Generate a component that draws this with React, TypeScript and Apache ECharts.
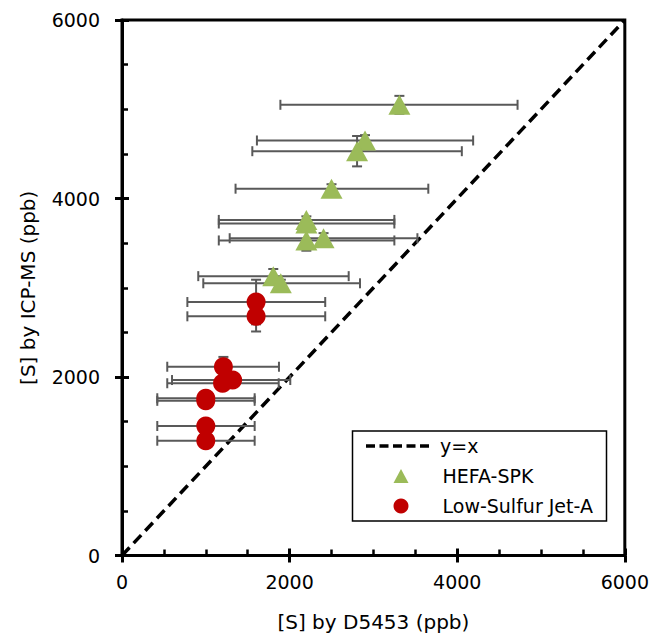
import React, { useEffect, useRef } from "react";
import * as echarts from "echarts";

// HEFA-SPK
const hefaX = [3310, 2900, 2805, 2500, 2200, 2200, 2200, 2405, 1805, 1895];
const hefaY = [5050, 4650, 4530, 4110, 3760, 3720, 3530, 3555, 3130, 3050];
const hefaXLow = [1890, 1610, 1555, 1355, 1155, 1155, 1155, 1285, 910, 970];
const hefaXHigh = [4720, 4190, 4055, 3655, 3250, 3250, 3250, 3525, 2705, 2840];
const hefaYErr = [100, 60, 170, 50, 40, 40, 115, 57, 80, 40];

// Low-Sulfur Jet-A
const jetX = [1600, 1600, 1210, 1200, 1320, 1000, 1000, 1000, 1000];
const jetY = [2840, 2680, 2115, 1930, 1966, 1762, 1733, 1451, 1286];
const jetXLow = [780, 780, 540, 540, 597, 421, 421, 421, 421];
const jetXHigh = [2425, 2425, 1873, 1870, 2008, 1583, 1583, 1583, 1583];
const jetYErr = [250, 170, 110, 60, 60, 60, 60, 60, 60];

// y = x reference line
const refLine = [
  [0, 0],
  [6000, 6000],
];

const axisMin = 0;
const axisMax = 6000;
const axisInterval = 2000;

const xTitle = "[S] by D5453 (ppb)";
const yTitle = "[S] by ICP-MS (ppb)";
const legendNames = ["y=x", "HEFA-SPK", "Low-Sulfur Jet-A"];

const FONT = "DejaVu Sans";
const BAR_COLOR = "#595959";

function errData(xs: number[], ys: number[], lo: number[], hi: number[], ye: number[]) {
  return xs.map((x, i) => [x, ys[i], lo[i], hi[i], ys[i] - ye[i], ys[i] + ye[i]]);
}

function renderErr(params: any, api: any) {
  const x = api.value(0);
  const y = api.value(1);
  const l = api.coord([api.value(2), y]);
  const r = api.coord([api.value(3), y]);
  const b = api.coord([x, api.value(4)]);
  const t = api.coord([x, api.value(5)]);
  const cap = 5;
  const style = { stroke: BAR_COLOR, lineWidth: 2 };
  const ln = (x1: number, y1: number, x2: number, y2: number) => ({
    type: "line",
    shape: { x1, y1, x2, y2 },
    style,
  });
  return {
    type: "group",
    children: [
      ln(l[0], l[1], r[0], r[1]),
      ln(l[0], l[1] - cap, l[0], l[1] + cap),
      ln(r[0], r[1] - cap, r[0], r[1] + cap),
      ln(b[0], b[1], t[0], t[1]),
      ln(b[0] - cap, b[1], b[0] + cap, b[1]),
      ln(t[0] - cap, t[1], t[0] + cap, t[1]),
    ],
  };
}

export default function App() {
  const ref = useRef<HTMLDivElement>(null);

  useEffect(() => {
    document.body.style.margin = "0";
    const chart = echarts.init(ref.current!, null, { renderer: "svg" });

    const labelStyle = {
      color: "#000",
      fontFamily: FONT,
      fontSize: 19,
      formatter: (v: number) => String(v),
    };
    const nameStyle = { color: "#000", fontFamily: FONT, fontSize: 20 };

    const mainAxis = (isX: boolean) => ({
      type: "value",
      min: axisMin,
      max: axisMax,
      interval: axisInterval,
      position: isX ? "bottom" : "left",
      axisLine: { show: true, onZero: false, lineStyle: { color: "#000", width: 3 } },
      axisTick: { show: true, inside: true, length: 7, lineStyle: { color: "#000", width: 3 } },
      minorTick: { show: true, splitNumber: 4, length: 6, lineStyle: { color: "#000", width: 2.5 } },
      splitLine: { show: false },
      axisLabel: { ...labelStyle, margin: isX ? 17 : 22 },
      name: isX ? xTitle : yTitle,
      nameLocation: "middle",
      nameGap: isX ? 56 : 84,
      nameTextStyle: nameStyle,
    });
    const outerTickAxis = (isX: boolean) => ({
      type: "value",
      min: axisMin,
      max: axisMax,
      interval: axisInterval,
      position: isX ? "bottom" : "left",
      axisLine: { show: false, onZero: false },
      axisTick: { show: true, inside: false, length: 7, lineStyle: { color: "#000", width: 3 } },
      axisLabel: { show: false },
      splitLine: { show: false },
    });

    const lx = 352.5;
    const ly = 431;

    chart.setOption({
      animation: false,
      grid: {
        left: 122,
        top: 20,
        width: 505.5,
        height: 535.5,
        show: true,
        borderColor: "#000",
        borderWidth: 3,
        backgroundColor: "transparent",
      },
      xAxis: [mainAxis(true), outerTickAxis(true)],
      yAxis: [mainAxis(false), outerTickAxis(false)],
      series: [
        {
          type: "line",
          name: legendNames[0],
          data: refLine,
          xAxisIndex: 0,
          yAxisIndex: 0,
          showSymbol: false,
          lineStyle: { color: "#000", width: 3.5, type: [11, 6] },
          z: 2,
        },
        {
          type: "custom",
          name: "hefaErr",
          xAxisIndex: 0,
          yAxisIndex: 0,
          data: errData(hefaX, hefaY, hefaXLow, hefaXHigh, hefaYErr),
          renderItem: renderErr,
          encode: { x: [0, 2, 3], y: [1, 4, 5] },
          z: 3,
        },
        {
          type: "custom",
          name: "jetErr",
          xAxisIndex: 0,
          yAxisIndex: 0,
          data: errData(jetX, jetY, jetXLow, jetXHigh, jetYErr),
          renderItem: renderErr,
          encode: { x: [0, 2, 3], y: [1, 4, 5] },
          z: 3,
        },
        {
          type: "scatter",
          name: legendNames[1],
          xAxisIndex: 0,
          yAxisIndex: 0,
          symbol: "triangle",
          symbolSize: [22, 20],
          itemStyle: { color: "#9BBB59", opacity: 1 },
          data: hefaX.map((x, i) => [x, hefaY[i]]),
          z: 4,
        },
        {
          type: "scatter",
          name: legendNames[2],
          xAxisIndex: 0,
          yAxisIndex: 0,
          symbol: "circle",
          symbolSize: 19,
          itemStyle: { color: "#C00000", opacity: 1 },
          data: jetX.map((x, i) => [x, jetY[i]]),
          z: 4,
        },
      ],
      graphic: [
        {
          type: "group",
          z: 100,
          children: [
            {
              type: "rect",
              shape: { x: lx, y: ly, width: 254, height: 90 },
              style: { fill: "#fff", stroke: "#000", lineWidth: 1.5 },
            },
            {
              type: "line",
              shape: { x1: lx + 13.5, y1: ly + 15, x2: lx + 78.5, y2: ly + 15 },
              style: { stroke: "#000", lineWidth: 3.5, lineDash: [9, 4.5] },
            },
            {
              type: "text",
              x: lx + 87.5,
              y: ly + 15,
              style: { text: legendNames[0], font: `19px '${FONT}'`, fill: "#000", verticalAlign: "middle" },
            },
            {
              type: "polygon",
              shape: {
                points: [
                  [lx + 48.5, ly + 38],
                  [lx + 56, ly + 52],
                  [lx + 41, ly + 52],
                ],
              },
              style: { fill: "#9BBB59" },
            },
            {
              type: "text",
              x: lx + 90,
              y: ly + 45,
              style: { text: legendNames[1], font: `19px '${FONT}'`, fill: "#000", verticalAlign: "middle" },
            },
            {
              type: "circle",
              shape: { cx: lx + 48.5, cy: ly + 75, r: 7.5 },
              style: { fill: "#C00000" },
            },
            {
              type: "text",
              x: lx + 90,
              y: ly + 75,
              style: { text: legendNames[2], font: `19px '${FONT}'`, fill: "#000", verticalAlign: "middle" },
            },
          ],
        },
      ],
    });
    return () => chart.dispose();
  }, []);

  return <div ref={ref} style={{ width: 652, height: 639 }} />;
}
